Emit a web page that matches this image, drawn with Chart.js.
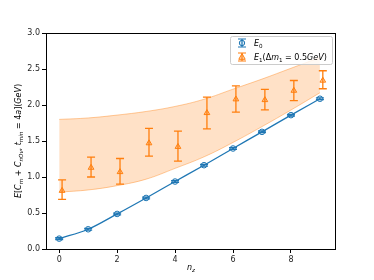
<!DOCTYPE html>
<html><head><meta charset="utf-8">
<script src="https://cdn.jsdelivr.net/npm/chart.js@4/dist/chart.umd.min.js"></script>
<style>html,body{margin:0;padding:0;background:#fff}#wrap{width:374px;height:280px}canvas{display:block}</style>
</head><body>
<div id="wrap"><canvas id="c" width="374" height="280"></canvas></div>
<script>
// ---- data ----
const nz = [0, 1, 2, 3, 4, 5, 6, 7, 8, 9];
const e0 = [0.144, 0.274, 0.487, 0.709, 0.937, 1.164, 1.396, 1.627, 1.859, 2.087];
const e0Err = [0.012, 0.012, 0.012, 0.012, 0.012, 0.012, 0.012, 0.012, 0.012, 0.012];
const nz1 = [0.1, 1.1, 2.1, 3.1, 4.1, 5.1, 6.1, 7.1, 8.1, 9.1];
const e1 = [0.81, 1.13, 1.07, 1.47, 1.42, 1.89, 2.08, 2.07, 2.20, 2.34];
const e1Hi = [0.96, 1.275, 1.257, 1.674, 1.637, 2.11, 2.267, 2.216, 2.34, 2.476];
const e1Lo = [0.69, 1.00, 0.90, 1.289, 1.22, 1.669, 1.90, 1.933, 2.06, 2.226];
const bandX = [0, 1, 2, 3, 4, 5, 6, 7, 8, 9];
const bandUpper = [1.80, 1.82, 1.86, 1.91, 1.98, 2.08, 2.22, 2.36, 2.51, 2.66];
const bandLower = [0.79, 0.82, 0.88, 0.97, 1.12, 1.28, 1.48, 1.70, 1.93, 2.17];
const xTicks = [0, 2, 4, 6, 8];
const yTicks = [0.0, 0.5, 1.0, 1.5, 2.0, 2.5, 3.0];
const legendLabels = [
  [{t:'E',it:1},{t:'0',sub:1}],
  [{t:'E',it:1},{t:'1',sub:1},{t:'(',it:0},{t:'Δ',it:0},{t:'m',it:1},{t:'1',sub:1},{t:' = 0.5',it:0},{t:'GeV',it:1},{t:')',it:0}]
];
const yTitle = [{t:'E',it:1},{t:'[',it:0},{t:'C',it:1},{t:'m',it:1,sub:1},{t:' + ',it:0},{t:'C',it:1},{t:'nOν',it:1,sub:1},{t:', ',it:0},{t:'t',it:1},{t:'min',it:1,sub:1},{t:' = 4',it:0},{t:'a',it:1},{t:'](',it:0},{t:'GeV',it:1},{t:')',it:0}];
const xTitle = [{t:'n',it:1},{t:'z',it:1,sub:1}];

const BLUE = '#1f77b4', ORANGE = '#ff7f0e';
const FONT = "'DejaVu Sans'";
const FS = 8;

function segFont(s, size){ const sz = s.sub ? size*0.7 : size; return (s.it ? 'italic ' : '') + sz + 'px ' + FONT; }
function mathWidth(ctx, segs, size){ let w=0; for(const s of segs){ ctx.font = segFont(s,size); w += ctx.measureText(s.t).width; } return w; }
function drawMath(ctx, segs, x, y, size){
  ctx.textBaseline = 'alphabetic'; ctx.textAlign = 'left';
  for(const s of segs){ ctx.font = segFont(s,size); ctx.fillText(s.t, x, y + (s.sub ? size*0.22 : 0)); x += ctx.measureText(s.t).width; }
}

const errPlugin = {
  id: 'errbars',
  beforeDatasetDraw(chart, args){
    const ds = chart.data.datasets[args.index];
    if(!ds.errLo) return;
    const ctx = chart.ctx, xs = chart.scales.x, ys = chart.scales.y;
    ctx.save(); ctx.strokeStyle = ds.borderColor; ctx.lineWidth = 1.3;
    ds.data.forEach((p,i)=>{
      const px = xs.getPixelForValue(p.x), t = ys.getPixelForValue(ds.errHi[i]), b = ys.getPixelForValue(ds.errLo[i]);
      ctx.beginPath(); ctx.moveTo(px,t); ctx.lineTo(px,b);
      ctx.moveTo(px-4,t); ctx.lineTo(px+4,t); ctx.moveTo(px-4,b); ctx.lineTo(px+4,b); ctx.stroke();
    });
    ctx.restore();
  }
};

const decoPlugin = {
  id: 'deco',
  afterDraw(chart){
    const ctx = chart.ctx, a = chart.chartArea;
    ctx.save();
    ctx.strokeStyle = '#000'; ctx.lineWidth = 1;
    ctx.strokeRect(Math.round(a.left)+0.5, Math.round(a.top)+0.5, Math.round(a.right-a.left)-1, Math.round(a.bottom-a.top));
    // legend
    const lx = 230.5, ly = 36.5, lw = 102, lh = 28;
    ctx.fillStyle = 'rgba(255,255,255,0.8)'; ctx.strokeStyle = '#cccccc'; ctx.lineWidth = 1;
    ctx.beginPath(); ctx.roundRect(lx, ly, lw, lh, 2); ctx.fill(); ctx.stroke();
    const rows = [43, 57], cols = [BLUE, ORANGE];
    rows.forEach((ry,i)=>{
      const cx = 242;
      ctx.strokeStyle = cols[i]; ctx.lineWidth = 1.2;
      ctx.beginPath(); ctx.moveTo(cx, ry-4); ctx.lineTo(cx, ry+4); ctx.moveTo(cx-4, ry-4); ctx.lineTo(cx+4, ry-4); ctx.moveTo(cx-4, ry+4); ctx.lineTo(cx+4, ry+4); ctx.stroke();
      ctx.lineWidth = 1;
      if(i===0){ ctx.fillStyle='rgba(31,119,180,0.15)'; ctx.beginPath(); ctx.arc(cx, ry, 2.7, 0, Math.PI*2); ctx.fill(); ctx.stroke(); }
      else { ctx.fillStyle='rgba(255,127,14,0.3)'; ctx.beginPath(); ctx.moveTo(cx, ry-3.5); ctx.lineTo(cx+3.2, ry+2.3); ctx.lineTo(cx-3.2, ry+2.3); ctx.closePath(); ctx.fill(); ctx.stroke(); }
      ctx.fillStyle = '#000';
      drawMath(ctx, legendLabels[i], 254, ry+3, FS);
    });
    // axis titles
    ctx.fillStyle = '#000';
    const xw = mathWidth(ctx, xTitle, FS);
    drawMath(ctx, xTitle, (a.left+a.right)/2 - xw/2, 270, FS);
    const yw = mathWidth(ctx, yTitle, FS);
    ctx.translate(21, (a.top+a.bottom)/2); ctx.rotate(-Math.PI/2);
    drawMath(ctx, yTitle, -yw/2, 0, FS);
    ctx.restore();
  }
};

new Chart(document.getElementById('c'), {
  type: 'scatter',
  data: { datasets: [
    { label: 'E0', data: nz.map((x,i)=>({x, y:e0[i]})), errLo: e0.map((v,i)=>v-e0Err[i]), errHi: e0.map((v,i)=>v+e0Err[i]),
      showLine: true, cubicInterpolationMode: 'monotone', borderColor: BLUE, borderWidth: 1.3, backgroundColor: 'rgba(31,119,180,0.15)',
      pointStyle: 'circle', pointRadius: 2.8, pointBorderWidth: 1, pointBorderColor: BLUE, pointBackgroundColor: 'rgba(31,119,180,0.12)', order: 2 },
    { label: 'E1', data: nz1.map((x,i)=>({x, y:e1[i]})), errLo: e1Lo, errHi: e1Hi,
      showLine: false, borderColor: ORANGE, backgroundColor: 'rgba(255,127,14,0.3)',
      pointStyle: 'triangle', pointRadius: 3.3, pointBorderWidth: 1, pointBorderColor: ORANGE, pointBackgroundColor: 'rgba(255,127,14,0.3)', order: 1 },
    { label: 'bandU', data: bandX.map((x,i)=>({x, y:bandUpper[i]})), showLine: true, tension: 0.4, pointRadius: 0,
      borderColor: 'rgba(255,127,14,0.4)', borderWidth: 1, backgroundColor: 'rgba(255,127,14,0.23)', fill: '+1', order: 10 },
    { label: 'bandL', data: bandX.map((x,i)=>({x, y:bandLower[i]})), showLine: true, tension: 0.4, pointRadius: 0,
      borderColor: 'rgba(255,127,14,0.4)', borderWidth: 1, fill: false, order: 11 }
  ]},
  options: {
    responsive: false, devicePixelRatio: 1, animation: false,
    layout: { padding: { left: 0, right: 38, top: 33, bottom: 0 } },
    plugins: { legend: { display: false }, tooltip: { enabled: false } },
    scales: {
      x: { type: 'linear', min: -0.455, max: 9.555,
        afterBuildTicks: s => { s.ticks = xTicks.map(v=>({value:v})); },
        afterFit: s => { s.height = 31; },
        border: { display: false },
        grid: { display: true, drawOnChartArea: false, drawTicks: true, tickLength: 4, color: '#000', lineWidth: 1 },
        ticks: { font: { family: 'DejaVu Sans', size: FS }, color: '#262626', padding: 2, maxRotation: 0, callback: v => String(v) } },
      y: { type: 'linear', min: 0, max: 3,
        afterBuildTicks: s => { s.ticks = yTicks.map(v=>({value:v})); },
        afterFit: s => { s.width = 46; },
        border: { display: false },
        grid: { display: true, drawOnChartArea: false, drawTicks: true, tickLength: 4, color: '#000', lineWidth: 1 },
        ticks: { font: { family: 'DejaVu Sans', size: FS }, color: '#262626', padding: 2, callback: v => v.toFixed(1) } }
    }
  },
  plugins: [errPlugin, decoPlugin]
});
</script>
</body></html>
